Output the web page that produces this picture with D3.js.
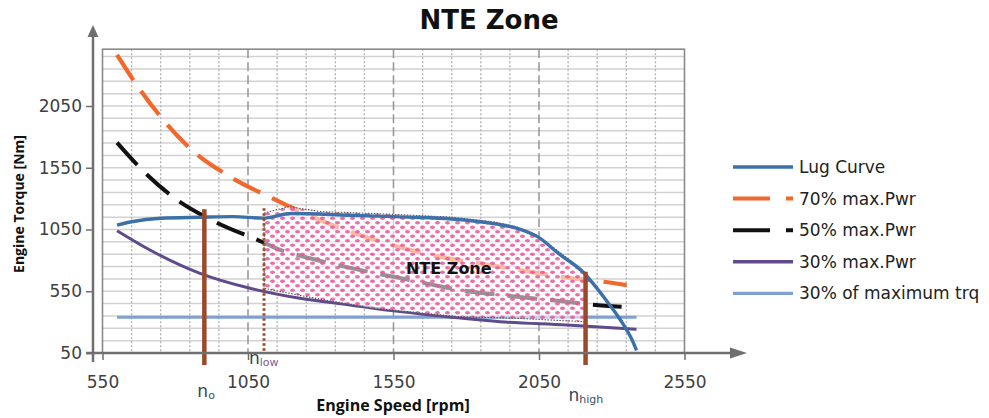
<!DOCTYPE html>
<html><head><meta charset="utf-8">
<script src="https://cdn.jsdelivr.net/npm/d3@7"></script>
<style>
html,body{margin:0;padding:0;background:#fff;}
svg{display:block;}
</style></head>
<body>
<svg id="chart" width="989" height="418"></svg>
<script>
// ---------- data ----------
const xTicks = [550, 1050, 1550, 2050, 2550];
const yTicks = [50, 550, 1050, 1550, 2050];

const lugRpm    = [600, 650, 750, 885, 1000, 1100, 1200, 1400, 1600, 1750, 1900, 1975, 2045, 2120, 2200, 2280, 2330, 2370, 2385];
const lugTorque = [1086, 1113, 1141, 1149, 1154, 1142, 1180, 1165, 1150, 1135, 1095, 1060, 992, 850, 708, 480, 317, 155, 72];

const p70Rpm    = [600, 656, 748, 851, 988, 1137, 1194, 1354, 1526, 1709, 1881, 2053, 2166, 2225, 2351];
const p70Torque = [2463, 2260, 1969, 1707, 1478, 1299, 1234, 1073, 938, 830, 762, 695, 655, 641, 600];

const p50Rpm    = [600, 673, 788, 936, 1097, 1147, 1263, 1435, 1606, 1767, 1973, 2145, 2219, 2334];
const p50Torque = [1753, 1564, 1321, 1113, 951, 898, 817, 722, 641, 565, 506, 465, 444, 425];

const p30Rpm    = [600, 713, 885, 1057, 1228, 1400, 1572, 1750, 1916, 2145, 2385];
const p30Torque = [1040, 884, 695, 574, 493, 439, 385, 340, 303, 277, 242];

const trq30Rpm    = [600, 2385];
const trq30Torque = [339, 339];

const zoneTopRpm    = [1105, 1190, 1300, 1500, 1750, 1900, 1975, 2045, 2120, 2208];
const zoneTopTorque = [1183, 1235, 1195, 1178, 1150, 1110, 1070, 1000, 868, 705];
const zoneBotRpm    = [1105, 1251, 1479, 1778, 1973, 2208];
const zoneBotTorque = [574, 506, 412, 344, 331, 303];

const nMarks = [
  {name: "n", sub: "o",    rpm: 900,  top: 1214, style: "solid"},
  {name: "n", sub: "low",  rpm: 1105, top: 1222, style: "dotted"},
  {name: "n", sub: "high", rpm: 2210, top: 708,  style: "solid"}
];

const seriesNames = ["Lug Curve", "70% max.Pwr", "50% max.Pwr", "30% max.Pwr", "30% of maximum trq"];

// ---------- layout ----------
const svg = d3.select("#chart");
const plotL = 102.5, plotR = 684.5, plotB = 353;
const x = d3.scaleLinear().domain([550, 2550]).range([plotL, plotR]);
const y = d3.scaleLinear().domain([50, 2050]).range([353, 106]);
const yTop = 2510;

const C = {
  lug: "#3b70a9", p70: "#f2672b", p50: "#111111", p30: "#5f4b8b", trq: "#80a0cf",
  brown: "#9a4a2b", axis: "#6f6f6f"
};

// pattern for the NTE zone
const defs = svg.append("defs");
const pat = defs.append("pattern").attr("id", "dots").attr("patternUnits", "userSpaceOnUse")
  .attr("width", 10).attr("height", 9);
pat.append("rect").attr("width", 10).attr("height", 9).attr("fill", "#fff").attr("fill-opacity", 0.55);
pat.append("ellipse").attr("cx", 2.5).attr("cy", 2.2).attr("rx", 2.5).attr("ry", 1.8).attr("fill", "#e8559c").attr("fill-opacity", 0.85);
pat.append("ellipse").attr("cx", 7.5).attr("cy", 6.7).attr("rx", 2.5).attr("ry", 1.8).attr("fill", "#e8559c").attr("fill-opacity", 0.85);

// ---------- grid ----------
const grid = svg.append("g");
const hLines = d3.range(150, yTop, 100);
grid.selectAll("line.h").data(hLines).join("line")
  .attr("x1", plotL).attr("x2", plotR).attr("y1", d => y(d)).attr("y2", d => y(d))
  .attr("stroke", "#d2d2d2").attr("stroke-width", 1.5);
const vLines = d3.range(650, 2550, 100);
grid.selectAll("line.v").data(vLines).join("line")
  .attr("x1", d => x(d)).attr("x2", d => x(d)).attr("y1", y(yTop)).attr("y2", plotB)
  .attr("stroke", d => (d - 50) % 500 === 0 ? "#9a9a9a" : "#b3b3b3")
  .attr("stroke-width", d => (d - 50) % 500 === 0 ? 1.6 : 1.4)
  .attr("stroke-dasharray", d => (d - 50) % 500 === 0 ? "9,4" : "2,2");
// plot box
svg.append("rect").attr("x", plotL).attr("y", y(yTop)).attr("width", plotR - plotL).attr("height", plotB - y(yTop))
  .attr("fill", "none").attr("stroke", "#8a8a8a").attr("stroke-width", 1.6);

// ---------- curves ----------
const line = d3.line().x(d => x(d[0])).y(d => y(d[1])).curve(d3.curveMonotoneX);
const zip = (a, b) => a.map((v, i) => [v, b[i]]);

const curves = svg.append("g").attr("fill", "none").attr("stroke-linecap", "butt");
curves.append("path").attr("d", line(zip(trq30Rpm, trq30Torque))).attr("stroke", C.trq).attr("stroke-width", 3);
curves.append("path").attr("d", line(zip(p30Rpm, p30Torque))).attr("stroke", C.p30).attr("stroke-width", 3);
curves.append("path").attr("d", line(zip(p70Rpm, p70Torque))).attr("stroke", C.p70).attr("stroke-width", 4.2).attr("stroke-dasharray", "30,13");
curves.append("path").attr("d", line(zip(p50Rpm, p50Torque))).attr("stroke", C.p50).attr("stroke-width", 4).attr("stroke-dasharray", "30,13");

// ---------- NTE zone ----------
const topPts = zip(zoneTopRpm, zoneTopTorque);
const botPts = zip(zoneBotRpm, zoneBotTorque).reverse();
const zoneLine = d3.line().x(d => x(d[0])).y(d => y(d[1])).curve(d3.curveLinear);
const zonePts = topPts.concat(botPts);
svg.append("path").attr("d", zoneLine(zonePts) + "Z")
  .attr("fill", "url(#dots)").attr("stroke", "#555").attr("stroke-width", 1.1).attr("stroke-dasharray", "1.5,1.5");

// lug curve on top
svg.append("path").attr("d", line(zip(lugRpm, lugTorque))).attr("fill", "none").attr("stroke", C.lug).attr("stroke-width", 3.4);

svg.append("text").attr("x", x(1740)).attr("y", 274).attr("text-anchor", "middle")
  .attr("font-family", "DejaVu Sans").attr("font-weight", "bold").attr("font-size", 16).attr("fill", "#111")
  .text("NTE Zone");

// ---------- n markers ----------
nMarks.forEach(m => {
  const ln = svg.append("line").attr("x1", x(m.rpm)).attr("x2", x(m.rpm))
    .attr("y1", y(m.top)).attr("y2", m.style === "dotted" ? plotB : plotB + 12)
    .attr("stroke", C.brown);
  if (m.style === "dotted") ln.attr("stroke-width", 3).attr("stroke-dasharray", "2.5,2.5");
  else ln.attr("stroke-width", 4.5);
});
const nLab = svg.append("g").attr("font-family", "DejaVu Sans").attr("fill", "#2e4660");
const labPos = {o: [x(900) - 7, 397], low: [x(1105) - 15, 364], high: [x(2210) - 17, 401]};
nMarks.forEach(m => {
  const p = labPos[m.sub];
  const t = nLab.append("text").attr("x", p[0]).attr("y", p[1]).attr("font-size", 17);
  t.append("tspan").text(m.name);
  t.append("tspan").attr("font-size", 11).attr("dy", 1.5).attr("fill", m.sub === "low" ? "#7a5a9e" : "#3a4e66").text(m.sub);
});

// ---------- axes ----------
const axisX = 93;
const yAxis = svg.append("g").attr("transform", `translate(${axisX},0)`)
  .call(d3.axisLeft(y).tickValues(yTicks).tickFormat(d3.format("d")).tickSize(7).tickPadding(4));
yAxis.select(".domain").remove();
yAxis.selectAll(".tick line").attr("stroke", C.axis).attr("stroke-width", 1.5);
yAxis.selectAll(".tick text").attr("font-family", "DejaVu Sans").attr("font-size", 17).attr("fill", "#404040");

const xAxis = svg.append("g").attr("transform", `translate(0,${plotB})`)
  .call(d3.axisBottom(x).tickValues(xTicks).tickFormat(d3.format("d")).tickSize(7).tickPadding(16));
xAxis.select(".domain").remove();
xAxis.selectAll(".tick line").attr("stroke", C.axis).attr("stroke-width", 1.5);
xAxis.selectAll(".tick text").attr("font-family", "DejaVu Sans").attr("font-size", 17).attr("fill", "#404040");

// axis lines with arrows
svg.append("line").attr("x1", axisX).attr("x2", axisX).attr("y1", plotB + 9).attr("y2", 34)
  .attr("stroke", C.axis).attr("stroke-width", 2.5);
svg.append("path").attr("d", `M${axisX - 5.5},37 L${axisX},25 L${axisX + 5.5},37 Z`).attr("fill", C.axis);
svg.append("line").attr("x1", 86).attr("x2", 733).attr("y1", plotB).attr("y2", plotB)
  .attr("stroke", C.axis).attr("stroke-width", 2.5);
svg.append("path").attr("d", `M730,${plotB - 5.5} L747,${plotB} L730,${plotB + 5.5} Z`).attr("fill", C.axis);

// axis titles
svg.append("text").attr("transform", `translate(24,204) rotate(-90)`).attr("text-anchor", "middle")
  .attr("font-family", "Open Sans").attr("font-weight", "bold").attr("font-size", 14).attr("fill", "#111")
  .text("Engine Torque [Nm]");
svg.append("text").attr("x", 393).attr("y", 411).attr("text-anchor", "middle")
  .attr("font-family", "Open Sans").attr("font-weight", "bold").attr("font-size", 16).attr("fill", "#111")
  .text("Engine Speed [rpm]");

// title
svg.append("text").attr("x", 489).attr("y", 29).attr("text-anchor", "middle")
  .attr("font-family", "DejaVu Sans").attr("font-weight", "bold").attr("font-size", 26).attr("fill", "#111")
  .text("NTE Zone");

// ---------- legend ----------
const legStyles = [
  {c: C.lug, w: 3.4, dash: null},
  {c: C.p70, w: 4, dash: "37,16"},
  {c: C.p50, w: 4, dash: "37,16"},
  {c: C.p30, w: 3.4, dash: null},
  {c: C.trq, w: 3.4, dash: null}
];
const leg = svg.append("g").attr("transform", "translate(733,167)");
const rows = leg.selectAll("g").data(seriesNames).join("g").attr("transform", (d, i) => `translate(0,${i * 31.6})`);
rows.append("line").attr("x1", 0).attr("x2", 60).attr("y1", 0).attr("y2", 0)
  .attr("stroke", (d, i) => legStyles[i].c).attr("stroke-width", (d, i) => legStyles[i].w)
  .attr("stroke-dasharray", (d, i) => legStyles[i].dash);
rows.append("text").attr("x", 66).attr("y", 0).attr("dy", "0.35em")
  .attr("font-family", "DejaVu Sans").attr("font-size", 17).attr("fill", "#222").text(d => d);
</script>
</body></html>
